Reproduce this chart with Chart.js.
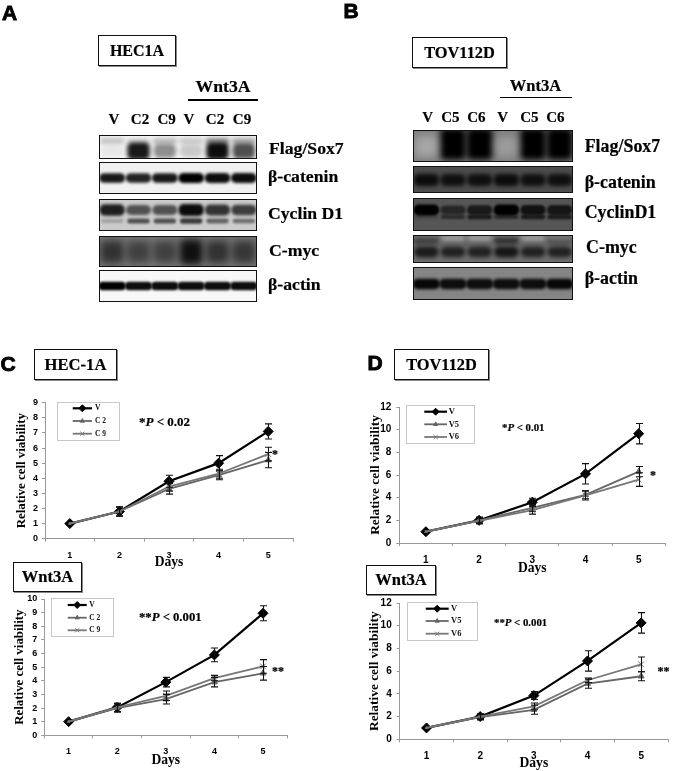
<!DOCTYPE html>
<html>
<head>
<meta charset="utf-8">
<title>Sox7 blots and cell viability</title>
<script src="https://cdn.jsdelivr.net/npm/chart.js@4/dist/chart.umd.min.js"></script>
<style>
    html, body { margin: 0; padding: 0; background: #fff; }
    #page { position: relative; width: 674px; height: 771px; overflow: hidden; filter: blur(0.35px); }
    #page canvas { position: absolute; }
    .lbl { position: absolute; white-space: nowrap; color: #000; font-weight: bold; font-family: "Liberation Serif", serif; line-height: 1; z-index: 2; -webkit-text-stroke: 0.2px #000; }
    .box { position: absolute; box-sizing: border-box; border: 1.5px solid #111; background: #fff; z-index: 1; box-shadow: 1px 1px 0 #888; }
    .rule { position: absolute; background: #000; z-index: 1; }
</style>
</head>
<body>
<div id="page"></div>
<script>
// =========================
// Data: cell viability curves
// =========================
const days = ['1', '2', '3', '4', '5'];

const hecV = [1, 1.8, 3.8, 5.0, 7.1];
const hecVErr = [0, 0.3, 0.4, 0.5, 0.5];
const hecC2 = [1, 1.8, 3.3, 4.2, 5.2];
const hecC2Err = [0, 0.3, 0.35, 0.3, 0.5];
const hecC9 = [1, 1.8, 3.45, 4.3, 5.6];
const hecC9Err = [0, 0.3, 0.3, 0.3, 0.45];

const hecWntV = [1, 2.05, 3.9, 5.9, 8.95];
const hecWntVErr = [0, 0.3, 0.35, 0.5, 0.55];
const hecWntC2 = [1, 2.0, 2.65, 3.9, 4.55];
const hecWntC2Err = [0, 0.3, 0.35, 0.35, 0.5];
const hecWntC9 = [1, 2.05, 2.9, 4.2, 5.05];
const hecWntC9Err = [0, 0.3, 0.35, 0.2, 0.5];

const tovV = [1, 2, 3.6, 6.1, 9.65];
const tovVErr = [0, 0.25, 0.35, 0.9, 0.9];
const tovV5 = [1, 2, 3.1, 4.25, 6.3];
const tovV5Err = [0, 0.3, 0.3, 0.35, 0.45];
const tovV6 = [1, 1.95, 2.9, 4.2, 5.6];
const tovV6Err = [0, 0.25, 0.35, 0.4, 0.6];

const tovWntV = [1, 2, 3.85, 6.9, 10.25];
const tovWntVErr = [0, 0.25, 0.35, 0.9, 0.9];
const tovWntV5 = [1, 1.95, 2.6, 4.9, 5.55];
const tovWntV5Err = [0, 0.25, 0.4, 0.4, 0.4];
const tovWntV6 = [1, 2.0, 2.9, 5.2, 6.6];
const tovWntV6Err = [0, 0.2, 0.3, 0.2, 0.65];

// =========================
// Data: blot band darkness per lane (0 - 1)
// =========================
const lanesHec = ['V', 'C2', 'C9', 'V', 'C2', 'C9'];
const lanesTov = ['V', 'C5', 'C6', 'V', 'C5', 'C6'];

const hecFlag = [0.05, 0.9, 0.42, 0.18, 0.95, 0.68];
const hecFlagTop = [0.22, 0.1, 0.25, 0.2, 0.4, 0.3];
const hecCatenin = [0.9, 0.85, 0.9, 1, 0.95, 0.95];
const hecCyclinTop = [0.85, 0.6, 0.6, 0.95, 0.75, 0.7];
const hecCyclinLow = [0.2, 0.6, 0.6, 0.7, 0.5, 0.45];
const hecMyc = [0.55, 0.42, 0.42, 0.85, 0.55, 0.5];
const hecActin = [1, 0.95, 0.95, 0.95, 0.95, 0.95];

const tovFlag = [0.05, 1, 1, 0.1, 1, 1];
const tovFlagGlow = [0.35, 0, 0, 0.3, 0, 0];
const tovCatenin = [0.85, 0.8, 0.8, 0.85, 0.8, 0.8];
const tovCyclinTop = [1, 0.55, 0.7, 1, 0.8, 0.75];
const tovCyclinLow = [0.2, 0.5, 0.7, 0.5, 0.7, 0.7];
const tovMycGlow = [0.05, 0.45, 0.45, 0, 0.45, 0.2];
const tovMycTop = [0.55, 0.5, 0.5, 0.6, 0.5, 0.5];
const tovMycLow = [0.75, 0.7, 0.7, 0.8, 0.7, 0.7];
const tovActin = [0.95, 0.9, 0.9, 0.9, 0.9, 0.95];

// =========================
// Page text helpers
// =========================
const page = document.getElementById('page');

function addText(html, x, y, size, opts) {
    opts = opts || {};
    let el = document.createElement('div');
    el.className = 'lbl';
    el.innerHTML = html;
    el.style.left = x + 'px';
    el.style.top = y + 'px';
    el.style.fontSize = size + 'px';
    el.style.transform = opts.left ? 'translate(0,-50%)' : 'translate(-50%,-50%)';
    if (opts.sans) {
        el.style.fontFamily = '"Liberation Sans", sans-serif';
        el.style.webkitTextStroke = '0.9px #000';
    }
    page.appendChild(el);
}

function addBox(text, x0, y0, x1, y1, size) {
    let el = document.createElement('div');
    el.className = 'box';
    el.style.cssText = 'left:' + x0 + 'px;top:' + y0 + 'px;width:' + (x1 - x0) + 'px;height:' + (y1 - y0) + 'px';
    page.appendChild(el);
    addText(text, (x0 + x1) / 2, (y0 + y1) / 2, size);
}

function addRule(x0, x1, y, h) {
    let el = document.createElement('div');
    el.className = 'rule';
    el.style.cssText = 'left:' + x0 + 'px;top:' + y + 'px;width:' + (x1 - x0) + 'px;height:' + h + 'px';
    page.appendChild(el);
}

function addCanvas(x, y, w, h) {
    let c = document.createElement('canvas');
    c.width = w;
    c.height = h;
    c.style.left = x + 'px';
    c.style.top = y + 'px';
    c.style.width = w + 'px';
    c.style.height = h + 'px';
    page.appendChild(c);
    return c;
}

// =========================
// Blots: floating bars, blurred and clipped to their row
// =========================
const blotPlugin = {
    id: 'blotPlugin',
    beforeDatasetsDraw(chart, args, opts) {
        let ctx = chart.ctx;
        opts.rows.forEach(function (row) {
            ctx.fillStyle = row.bg;
            ctx.fillRect(0, row.y0, chart.width, row.y1 - row.y0);
        });
    },
    beforeDatasetDraw(chart, args, opts) {
        let ds = chart.data.datasets[args.index];
        let row = opts.rows[ds.rowIndex];
        let ctx = chart.ctx;
        ctx.save();
        ctx.beginPath();
        ctx.rect(0, row.y0, chart.width, row.y1 - row.y0);
        ctx.clip();
        ctx.filter = 'blur(' + ds.blur + 'px)';
    },
    afterDatasetDraw(chart) {
        chart.ctx.restore();
    },
    afterDatasetsDraw(chart, args, opts) {
        let ctx = chart.ctx;
        ctx.strokeStyle = '#111';
        ctx.lineWidth = 1;
        opts.rows.forEach(function (row) {
            ctx.strokeRect(0.5, row.y0 + 0.5, chart.width - 1, row.y1 - row.y0 - 1);
        });
    }
};

function blotChart(x, y, w, h, lanes, rows) {
    let datasets = [];
    rows.forEach(function (row, r) {
        row.bands.forEach(function (band) {
            let ink = band.ink || '0,0,0';
            datasets.push({
                data: band.dark.map(function (d) {
                    let half = band.thick / 2 * (0.6 + 0.4 * d);
                    return [band.y - half, band.y + half];
                }),
                backgroundColor: band.dark.map(function (d) { return 'rgba(' + ink + ',' + d + ')'; }),
                rowIndex: r,
                blur: band.blur || 2,
                borderRadius: 5,
                borderSkipped: false,
                barPercentage: band.wide || 0.92,
                categoryPercentage: 1,
                grouped: false
            });
        });
    });
    new Chart(addCanvas(x, y, w, h), {
        type: 'bar',
        data: { labels: lanes.map(function (l, i) { return l + i; }), datasets: datasets },
        plugins: [blotPlugin],
        options: {
            responsive: false,
            animation: false,
            events: [],
            layout: { padding: 0 },
            scales: {
                x: { display: false },
                y: { display: false, min: 0, max: h, reverse: true }
            },
            plugins: { legend: { display: false }, tooltip: { enabled: false }, blotPlugin: { rows: rows } }
        }
    });
}

// panel A
blotChart(99, 130, 158, 175, lanesHec, [
    { y0: 5, y1: 29, bg: '#f4f4f4', bands: [
        { y: 11, thick: 8, dark: hecFlagTop, blur: 2 },
        { y: 21, thick: 18, dark: hecFlag, blur: 2.2, wide: 0.85 }
    ] },
    { y0: 32, y1: 64, bg: '#f1f1f1', bands: [{ y: 48, thick: 10, dark: hecCatenin, blur: 1.8, wide: 0.98 }] },
    { y0: 69, y1: 101, bg: '#cbcbcb', bands: [
        { y: 80, thick: 12, dark: hecCyclinTop, blur: 1.8, wide: 0.95 },
        { y: 91, thick: 6, dark: hecCyclinLow, blur: 1.2, wide: 0.85 }
    ] },
    { y0: 106, y1: 137, bg: '#6f6f6f', bands: [{ y: 122, thick: 26, dark: hecMyc, blur: 3.5, wide: 0.85 }] },
    { y0: 140, y1: 172, bg: '#f8f8f8', bands: [{ y: 156, thick: 8, dark: hecActin, blur: 1.3, wide: 1 }] }
]);

// panel B
blotChart(413, 126, 160, 178, lanesTov, [
    { y0: 4, y1: 36, bg: '#7d7d7d', bands: [
        { y: 20, thick: 30, dark: tovFlagGlow, ink: '255,255,255', blur: 4 },
        { y: 18, thick: 32, dark: tovFlag, blur: 3, wide: 0.98 }
    ] },
    { y0: 40, y1: 67, bg: '#4d4d4d', bands: [{ y: 54, thick: 13, dark: tovCatenin, blur: 2.2, wide: 0.94 }] },
    { y0: 72, y1: 105, bg: '#565656', bands: [
        { y: 84, thick: 11, dark: tovCyclinTop, blur: 1.3, wide: 0.95 },
        { y: 91, thick: 5, dark: tovCyclinLow, blur: 1 }
    ] },
    { y0: 109, y1: 137, bg: '#6e6e6e', bands: [
        { y: 113, thick: 9, dark: tovMycGlow, ink: '255,255,255', blur: 2 },
        { y: 115, thick: 7, dark: tovMycTop, blur: 2 },
        { y: 126, thick: 12, dark: tovMycLow, blur: 2 }
    ] },
    { y0: 141, y1: 174, bg: '#858585', bands: [{ y: 158, thick: 10, dark: tovActin, blur: 1.8, wide: 1 }] }
]);

// =========================
// Line charts
// =========================
const errorBarPlugin = {
    id: 'errorBarPlugin',
    afterDatasetsDraw(chart) {
        let ctx = chart.ctx;
        let yScale = chart.scales.y;
        ctx.save();
        ctx.strokeStyle = '#111';
        ctx.lineWidth = 1.1;
        chart.data.datasets.forEach(function (ds, d) {
            chart.getDatasetMeta(d).data.forEach(function (pt, i) {
                if (!ds.errors[i]) return;
                let x = Math.round(pt.x) + 0.5;
                let top = yScale.getPixelForValue(ds.data[i] + ds.errors[i]);
                let bot = yScale.getPixelForValue(ds.data[i] - ds.errors[i]);
                ctx.beginPath();
                ctx.moveTo(x, top);
                ctx.lineTo(x, bot);
                ctx.moveTo(x - 3.5, top);
                ctx.lineTo(x + 3.5, top);
                ctx.moveTo(x - 3.5, bot);
                ctx.lineTo(x + 3.5, bot);
                ctx.stroke();
            });
        });
        ctx.restore();
    }
};

// small legend box inside the plot, same look as the spreadsheet one
const boxLegendPlugin = {
    id: 'boxLegendPlugin',
    afterDraw(chart, args, opts) {
        let ctx = chart.ctx;
        let o = opts.box;
        let dx = -opts.canvasX;
        let dy = -opts.canvasY;
        ctx.save();
        ctx.fillStyle = '#fff';
        ctx.strokeStyle = '#c8c8c8';
        ctx.lineWidth = 1;
        ctx.fillRect(o.x0 + dx, o.y0 + dy, o.x1 - o.x0, o.y1 - o.y0);
        ctx.strokeRect(o.x0 + dx, o.y0 + dy, o.x1 - o.x0, o.y1 - o.y0);
        opts.entries.forEach(function (e, i) {
            let y = o.rows[i] + dy;
            ctx.strokeStyle = e.color;
            ctx.lineWidth = e.width;
            ctx.beginPath();
            ctx.moveTo(o.line0 + dx, y);
            ctx.lineTo(o.line1 + dx, y);
            ctx.stroke();
            ctx.fillStyle = e.color;
            ctx.lineWidth = 1;
            Chart.helpers.drawPoint(ctx, { pointStyle: e.style, radius: e.radius * 0.7, borderWidth: 1, rotation: 0 }, (o.line0 + o.line1) / 2 + dx, y);
            ctx.fillStyle = '#111';
            ctx.font = 'bold ' + o.size + 'px "Liberation Serif"';
            ctx.textBaseline = 'middle';
            ctx.fillText(e.name, o.label + dx, y);
        });
        ctx.restore();
    }
};

function viabilityChart(cfg) {
    let p = cfg.plot;
    let cx = cfg.canvasX;
    let cy = Math.floor(p.top) - 10;
    let cr = Math.min(674, Math.ceil(p.right) + 6);
    let cb = Math.ceil(cfg.daysY + 9);
    let styles = [
        { color: '#000', width: 2.2, style: 'rectRot', radius: 5, order: 3 },
        { color: '#666', width: 1.8, style: 'triangle', radius: 3.4, order: 2 },
        { color: '#777', width: 1.8, style: 'crossRot', radius: 4, order: 1 }
    ];
    let datasets = cfg.series.map(function (s, i) {
        let st = styles[i];
        return {
            label: s.name,
            data: s.values,
            errors: s.errors,
            borderColor: st.color,
            backgroundColor: st.color,
            borderWidth: st.width,
            pointStyle: st.style,
            // day 1 is shared by all three, the black diamond stays visible there
            pointRadius: i === 0 ? st.radius : [1.5, 2.5, st.radius, st.radius, st.radius],
            pointBorderColor: st.color,
            pointBackgroundColor: st.color,
            pointBorderWidth: 1,
            tension: 0,
            fill: false,
            order: st.order
        };
    });
    let entries = cfg.series.map(function (s, i) {
        return { name: s.label, color: styles[i].color, width: styles[i].width, style: styles[i].style, radius: styles[i].radius };
    });
    new Chart(addCanvas(cx, cy, cr - cx, cb - cy), {
        type: 'line',
        data: { labels: days, datasets: datasets },
        plugins: [errorBarPlugin, boxLegendPlugin],
        options: {
            responsive: false,
            animation: false,
            events: [],
            layout: { padding: { top: p.top - cy, right: cr - p.right, left: 0, bottom: 0 } },
            scales: {
                x: {
                    type: 'category',
                    offset: true,
                    afterFit: function (s) { s.height = cb - p.bottom; },
                    grid: { offset: true, drawOnChartArea: false, color: '#999', tickLength: 3 },
                    border: { color: '#999' },
                    ticks: {
                        color: '#000',
                        padding: cfg.xPad,
                        maxRotation: 0,
                        font: { family: 'Liberation Sans', weight: 'bold', size: cfg.tickSize }
                    },
                    title: {
                        display: true,
                        text: 'Days',
                        color: '#000',
                        padding: { top: 0, bottom: cb - cfg.daysY - 8 },
                        font: { family: 'Liberation Serif', weight: 'bold', size: 13.6 }
                    }
                },
                y: {
                    min: 0,
                    max: cfg.yMax,
                    afterFit: function (s) { s.width = p.left - cx; },
                    grid: { drawOnChartArea: false, color: '#999', tickLength: 3 },
                    border: { color: '#999' },
                    ticks: {
                        stepSize: cfg.yStep,
                        autoSkip: false,
                        color: '#000',
                        padding: cfg.yPad,
                        font: { family: 'Liberation Sans', weight: 'bold', size: cfg.tickSize }
                    },
                    title: {
                        display: true,
                        text: 'Relative cell viability',
                        color: '#000',
                        padding: { top: cfg.titleX - cx - 7.8, bottom: 0 },
                        font: { family: 'Liberation Serif', weight: 'bold', size: cfg.titleSize }
                    }
                }
            },
            plugins: {
                legend: { display: false },
                tooltip: { enabled: false },
                boxLegendPlugin: { box: cfg.legend, entries: entries, canvasX: cx, canvasY: cy }
            }
        }
    });
}

viabilityChart({
    plot: { left: 45, top: 402.7, right: 293, bottom: 538.7 },
    canvasX: 0, daysY: 562.7, titleX: 21.7, titleSize: 12.9, tickSize: 9, xPad: 8, yPad: 4, yMax: 9, yStep: 1,
    series: [
        { name: 'V', label: 'V', values: hecV, errors: hecVErr },
        { name: 'C2', label: 'C 2', values: hecC2, errors: hecC2Err },
        { name: 'C9', label: 'C 9', values: hecC9, errors: hecC9Err }
    ],
    legend: { x0: 57.5, y0: 402.5, x1: 119.5, y1: 440.5, line0: 72.7, line1: 92, rows: [408.3, 421, 433.7], label: 95, size: 7.5 }
});

viabilityChart({
    plot: { left: 44.3, top: 599, right: 287.3, bottom: 735.3 },
    canvasX: 0, daysY: 760.7, titleX: 19.3, titleSize: 12.9, tickSize: 9, xPad: 8, yPad: 4, yMax: 10, yStep: 1,
    series: [
        { name: 'V', label: 'V', values: hecWntV, errors: hecWntVErr },
        { name: 'C2', label: 'C 2', values: hecWntC2, errors: hecWntC2Err },
        { name: 'C9', label: 'C 9', values: hecWntC9, errors: hecWntC9Err }
    ],
    legend: { x0: 51.5, y0: 598.5, x1: 113.5, y1: 636.5, line0: 67.7, line1: 86.7, rows: [605, 617.7, 630.3], label: 89.3, size: 7.5 }
});

viabilityChart({
    plot: { left: 399.3, top: 406, right: 665.3, bottom: 543 },
    canvasX: 360, daysY: 568.3, titleX: 375.3, titleSize: 13.4, tickSize: 10, xPad: 8, yPad: 5, yMax: 12, yStep: 2,
    series: [
        { name: 'V', label: 'V', values: tovV, errors: tovVErr },
        { name: 'V5', label: 'V5', values: tovV5, errors: tovV5Err },
        { name: 'V6', label: 'V6', values: tovV6, errors: tovV6Err }
    ],
    legend: { x0: 406.5, y0: 405.5, x1: 474.5, y1: 443.5, line0: 424.3, line1: 447, rows: [411.7, 424.3, 437], label: 448.7, size: 8.5 }
});

viabilityChart({
    plot: { left: 399.7, top: 602.3, right: 673, bottom: 739.3 },
    canvasX: 360, daysY: 763.3, titleX: 374.7, titleSize: 13.4, tickSize: 10, xPad: 8, yPad: 5, yMax: 12, yStep: 2,
    series: [
        { name: 'V', label: 'V', values: tovWntV, errors: tovWntVErr },
        { name: 'V5', label: 'V5', values: tovWntV5, errors: tovWntV5Err },
        { name: 'V6', label: 'V6', values: tovWntV6, errors: tovWntV6Err }
    ],
    legend: { x0: 407.5, y0: 602.5, x1: 477.5, y1: 640.5, line0: 425.7, line1: 448.7, rows: [608.7, 621, 633.7], label: 451, size: 8.5 }
});

// =========================
// Text and boxes
// =========================
addText('A', 9.5, 12, 21, { sans: true });
addText('B', 351, 10, 21, { sans: true });
addText('C', 8, 363, 21, { sans: true });
addText('D', 375, 362, 21, { sans: true });

addBox('HEC1A', 98, 35, 176, 66, 16);
addBox('TOV112D', 412, 37, 507, 68, 16.4);
addBox('HEC-1A', 34, 349, 117, 380, 16.6);
addBox('TOV112D', 394, 349, 489, 380, 16.4);
addBox('Wnt3A', 13, 562, 82, 592, 16.5);
addBox('Wnt3A', 366, 565, 436, 595, 16.5);

addText('Wnt3A', 223, 87, 17.7);
addRule(188, 258, 99, 2);
addText('Wnt3A', 535.5, 86, 16.5);
addRule(500, 572, 96.5, 1.5);

const laneXHec = [114, 140, 166.7, 189, 215, 242];
const laneXTov = [427.7, 450.3, 476.3, 502.7, 529.3, 555.3];
lanesHec.forEach(function (l, i) { addText(l, laneXHec[i], 119, 15); });
lanesTov.forEach(function (l, i) { addText(l, laneXTov[i], 117, 15); });

addText('Flag/Sox7', 269, 149, 17.7, { left: true });
addText('β-catenin', 268, 177, 17.7, { left: true });
addText('Cyclin D1', 268, 214, 17.7, { left: true });
addText('C-myc', 269, 251, 17.7, { left: true });
addText('β-actin', 268, 285, 17.7, { left: true });

addText('Flag/Sox7', 584.7, 147, 17.9, { left: true });
addText('β-catenin', 584.7, 183, 17.9, { left: true });
addText('CyclinD1', 584.7, 213, 17.9, { left: true });
addText('C-myc', 586, 248, 17.9, { left: true });
addText('β-actin', 584.7, 279, 17.9, { left: true });

addText('*<i>P</i> &lt; 0.02', 139, 421, 13, { left: true });
addText('**<i>P</i> &lt; 0.001', 139, 617, 12.7, { left: true });
addText('*<i>P</i> &lt; 0.01', 502, 427, 10.8, { left: true });
addText('**<i>P</i> &lt; 0.001', 494, 622, 10.8, { left: true });

addText('*', 275, 454, 12);
addText('**', 278, 671, 12);
addText('*', 653, 475, 12);
addText('**', 663.5, 671, 12);
</script>
</body>
</html>
